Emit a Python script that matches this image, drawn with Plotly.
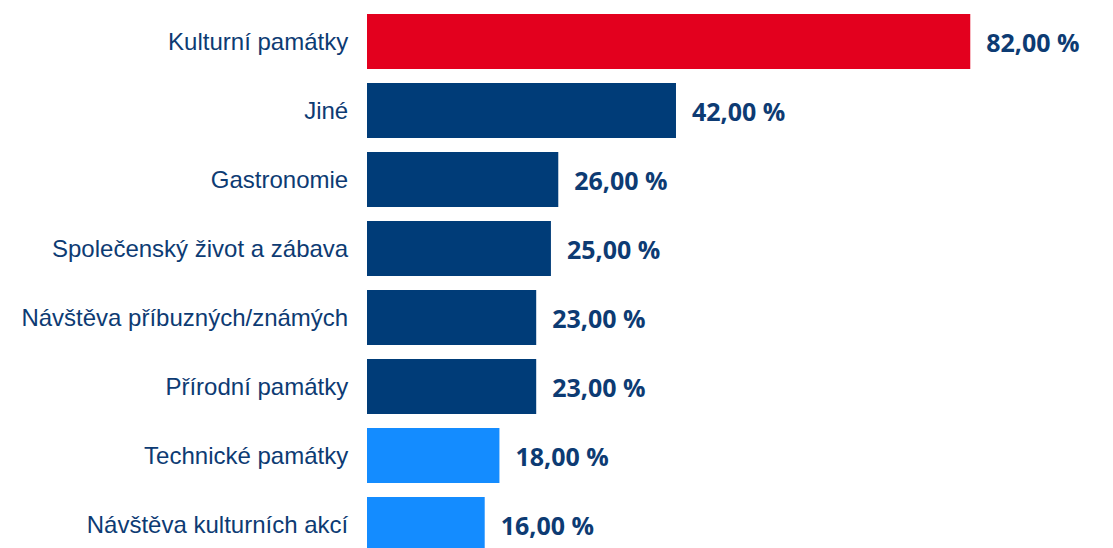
import plotly.graph_objects as go

categories = ["Kulturní památky", "Jiné", "Gastronomie", "Společenský život a zábava",
              "Návštěva příbuzných/známých", "Přírodní památky", "Technické památky",
              "Návštěva kulturních akcí"]
values = [82, 42, 26, 25, 23, 23, 18, 16]
colors = ["#E3001E", "#003C78", "#003C78", "#003C78", "#003C78", "#003C78", "#148CFF", "#148CFF"]

fig = go.Figure(go.Bar(
    x=values, y=categories, orientation="h",
    marker=dict(color=colors, line=dict(width=0)),
    text=values, texttemplate="\u00a0\u00a0%{x:.2f} %", textposition="outside",
    textfont=dict(family="Open Sans", size=25, color="#0D3B73", weight="bold"),
    cliponaxis=False, width=0.8,
))
fig.update_layout(
    width=1113, height=548, margin=dict(l=367, r=0, t=0, b=0),
    plot_bgcolor="white", paper_bgcolor="white", separators=", ",
    showlegend=False,
    xaxis=dict(range=[0, 101.4], visible=False, showgrid=False, zeroline=False),
    yaxis=dict(type="category", range=[7.3406, -0.6014], showgrid=False, zeroline=False,
               ticks="outside", ticklen=13, tickcolor="rgba(0,0,0,0)",
               tickfont=dict(family="Liberation Sans", size=24, color="#0D3B73")),
)
fig.write_html("out.html")
